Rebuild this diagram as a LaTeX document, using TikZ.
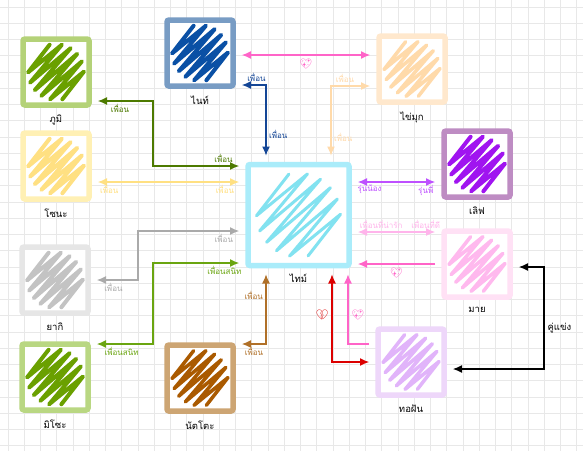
\documentclass[tikz,border=0pt]{standalone}
\usepackage{fontspec}
\newfontfamily\thai[Script=Thai]{Loma}
\newfontfamily\emoji{Noto Emoji}
\usetikzlibrary{arrows.meta,positioning,calc}
\definecolor{gridgray}{RGB}{232,232,232}
\definecolor{olivedark}{RGB}{77,122,0}
\definecolor{olivelight}{RGB}{106,165,16}
\definecolor{sunyellow}{RGB}{255,224,130}
\definecolor{stonegray}{RGB}{170,170,170}
\definecolor{nutbrown}{RGB}{176,112,40}
\definecolor{nightblue}{RGB}{20,70,150}
\definecolor{hotpink}{RGB}{255,100,200}
\definecolor{peach}{RGB}{255,218,170}
\definecolor{violet}{RGB}{190,80,255}
\definecolor{softpink}{RGB}{255,180,235}
\definecolor{heartred}{RGB}{220,0,0}
% frames
\definecolor{bhumframe}{RGB}{180,210,120}
\definecolor{nightframe}{RGB}{120,156,196}
\definecolor{pearlframe}{RGB}{255,232,205}
\definecolor{sonaframe}{RGB}{255,240,180}
\definecolor{timeframe}{RGB}{170,236,250}
\definecolor{loveframe}{RGB}{190,140,195}
\definecolor{maiframe}{RGB}{255,225,245}
\definecolor{yakiframe}{RGB}{230,230,230}
\definecolor{misoframe}{RGB}{185,215,130}
\definecolor{nattoframe}{RGB}{205,165,115}
\definecolor{thofanframe}{RGB}{238,215,250}
% scribbles
\definecolor{grassink}{RGB}{106,160,0}
\definecolor{nightink}{RGB}{10,80,165}
\definecolor{timeink}{RGB}{130,226,240}
\definecolor{loveink}{RGB}{160,20,240}
\definecolor{maiink}{RGB}{255,185,238}
\definecolor{yakiink}{RGB}{195,195,195}
\definecolor{nattoink}{RGB}{170,90,0}
\definecolor{thofanink}{RGB}{225,180,250}
% scribble inside a square: node, radius, colour, line width
\newcommand{\hatchfill}[4]{%
  \draw[#3, line width=#4, line cap=round, line join=round, shift={(#1.center)}]
    plot[variable=\k, samples at={0,...,11}]
    ({#2*0.707*((-0.85+0.1545*\k)+cos(180*\k)*sqrt(1-(-0.85+0.1545*\k)^2))},
     {#2*0.707*((-0.85+0.1545*\k)-cos(180*\k)*sqrt(1-(-0.85+0.1545*\k)^2))});
}

\begin{document}
\begin{tikzpicture}[
    x=1pt, y=-1pt,
    sq/.style={draw=#1, line width=5.5pt, rounded corners=2pt, minimum size=66pt, inner sep=0pt, outer sep=9pt, fill=white},
    who/.style={font=\thai\fontsize{9.5}{10}\selectfont, text=black, inner sep=1pt},
    rel/.style={font=\thai\fontsize{8}{9}\selectfont, inner sep=2.5pt},
    heart/.style={font=\emoji\fontsize{10}{10}\selectfont, inner sep=1pt},
    link/.style={<->, >={Latex[length=9pt,width=8pt]}, line width=1.1pt}
]
    \fill[white] (0,0) rectangle (583,451);
    \useasboundingbox (0,0) rectangle (583,451);
    % grid
    \foreach \i in {0,...,35}
        \draw[gridgray, line width=0.8pt] (8+16.25*\i,0) -- (8+16.25*\i,451);
    \foreach \j in {0,...,27}
        \draw[gridgray, line width=0.8pt] (0,7+16.25*\j) -- (583,7+16.25*\j);

    % Characters
    \node[sq=bhumframe] (bhum) at (56,72) {};
    \node[sq=nightframe] (night) at (200,53) {};
    \node[sq=pearlframe] (pearl) at (412,69) {};
    \node[sq=sonaframe] (sona) at (56,166) {};
    \node[sq=timeframe, minimum size=101pt] (time) at (298.5,215) {};
    \node[sq=loveframe] (love) at (477,164) {};
    \node[sq=maiframe] (mai) at (477,264) {};
    \node[sq=yakiframe] (yaki) at (55,280) {};
    \node[sq=misoframe] (miso) at (55,377) {};
    \node[sq=nattoframe] (natto) at (200,378) {};
    \node[sq=thofanframe] (thofan) at (411,362) {};

    % Scribbles
    \hatchfill{bhum}{28}{grassink}{4pt}
    \hatchfill{night}{28}{nightink}{4pt}
    \hatchfill{pearl}{28}{peach}{3.5pt}
    \hatchfill{sona}{28}{sunyellow}{4pt}
    \hatchfill{time}{42}{timeink}{3pt}
    \hatchfill{love}{28}{loveink}{4pt}
    \hatchfill{mai}{28}{maiink}{3.5pt}
    \hatchfill{yaki}{28}{yakiink}{4pt}
    \hatchfill{miso}{28}{grassink}{4pt}
    \hatchfill{natto}{28}{nattoink}{3.5pt}
    \hatchfill{thofan}{28}{thofanink}{3.5pt}

    % Names
    \node[who, below=0pt of bhum] {ภูมิ};
    \node[who, below=0pt of night] {ไนท์};
    \node[who, below=0pt of pearl] {ไข่มุก};
    \node[who, below=0pt of sona] {โซนะ};
    \node[who, below=-2pt of time] {ไทม์};
    \node[who, below=0pt of love] {เลิฟ};
    \node[who, below=0pt of mai] {มาย};
    \node[who, below=0pt of yaki] {ยากิ};
    \node[who, below=0pt of miso] {มิโซะ};
    \node[who, below=0pt of natto] {นัตโตะ};
    \node[who, below=0pt of thofan] {ทอฝัน};

    % Left side links
    \draw[link, olivedark] ([yshift=49pt]time.west) -- ++(-86,0) node[rel, pos=0.18, above]{เพื่อน}
        |- node[rel, pos=0.8, below]{เพื่อน} ([yshift=-29pt]bhum.east);
    \draw[link, sunyellow] ([yshift=-16pt]sona.east) -- node[rel, pos=0.08, below]{เพื่อน}
        node[rel, pos=0.9, below]{เพื่อน} ([yshift=-16pt]sona.east -| time.west);
    \draw[link, stonegray] ([yshift=-16pt]time.west) -- ++(-101,0) node[rel, pos=0.15, below]{เพื่อน}
        |- node[rel, pos=0.8, below]{เพื่อน} (yaki.east);
    \draw[link, olivelight] ([yshift=-48pt]time.west) -- ++(-86,0) node[rel, pos=0.17, below]{เพื่อนสนิท}
        |- node[rel, pos=0.78, below]{เพื่อนสนิท} ([yshift=33pt]miso.east);
    \draw[link, nutbrown] ([yshift=34pt]natto.east) -| node[rel, pos=0.25, below]{เพื่อน}
        node[rel, pos=0.85, left]{เพื่อน} ([xshift=-32.5pt]time.south);

    % Top links
    \draw[link, nightblue] ([yshift=-32pt]night.east) -| node[rel, pos=0.3, above]{เพื่อน}
        node[rel, pos=0.85, right]{เพื่อน} ([xshift=-32.5pt]time.north);
    \draw[link, hotpink] ([yshift=-2pt]night.east) -- node[heart, below=2pt]{💖} ([yshift=-2pt]night.east -| pearl.west);
    \draw[link, peach] ([xshift=32.5pt]time.north) |- node[rel, pos=0.13, right]{เพื่อน}
        node[rel, pos=0.68, above]{เพื่อน} ([yshift=-17pt]pearl.west);

    % Right side links
    \draw[link, violet] ([yshift=33pt]time.east) -- node[rel, pos=0.15, below]{รุ่นน้อง}
        node[rel, pos=0.88, below]{รุ่นพี่} ([yshift=33pt]time.east -| love.west);
    \draw[link, softpink] ([yshift=-17pt]time.east) -- node[rel, pos=0.3, above]{เพื่อนที่น่ารัก}
        node[rel, pos=0.88, above]{เพื่อนที่ดี} ([yshift=-17pt]time.east -| mai.west);
    \draw[link, -, ->, hotpink] (mai.west) -- node[heart, below=2pt]{💖} (mai.west -| time.east);
    \draw[link, heartred] ([xshift=33.5pt]time.south) |- node[heart, pos=0.23, left=2pt]{💔} (thofan.west);
    \draw[link, -, ->, hotpink] ([yshift=18pt]thofan.west) -| node[heart, pos=0.71, right=2pt]{💖} ([xshift=49.5pt]time.south);
    \draw[link, black] ([yshift=-3pt]mai.east) -- ++(25,0)
        |- node[who, pos=0.3, right=2pt]{คู่แข่ง} ([yshift=-7pt]thofan.east);
\end{tikzpicture}
\end{document}
